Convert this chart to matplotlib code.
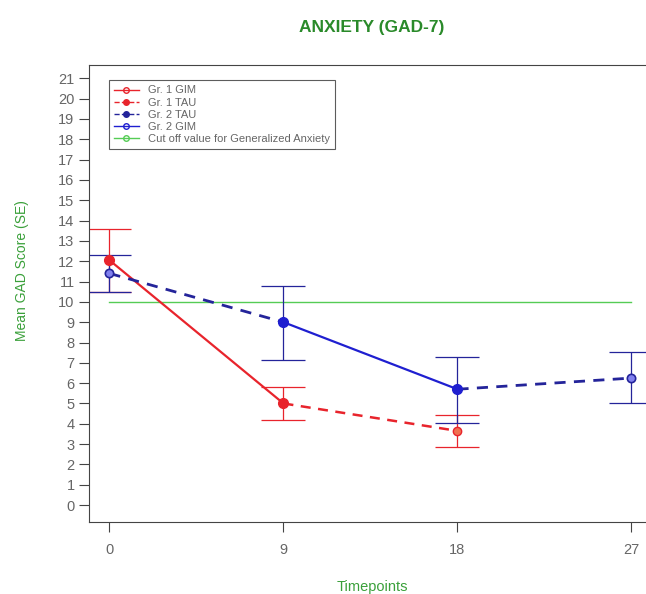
import matplotlib.pyplot as plt
from matplotlib.lines import Line2D

plt.rcParams["font.family"] = ["Liberation Sans", "DejaVu Sans"]

# data
t_g1 = [0, 9, 18]
mean_g1 = [12.05, 5.0, 3.65]
lo_g1 = [10.5, 4.2, 2.85]
hi_g1 = [13.6, 5.8, 4.45]

t_g2 = [0, 9, 18, 27]
mean_g2 = [11.4, 9.0, 5.7, 6.25]
lo_g2 = [10.5, 7.15, 4.05, 5.0]
hi_g2 = [12.3, 10.8, 7.3, 7.55]

cutoff = 10
x_ticks = [0, 9, 18, 27]
y_ticks = list(range(0, 22))

red = "#e8242c"
blue = "#1f1fd0"
navy = "#24249a"
green = "#2a8a2a"
grey = "#666666"

fig = plt.figure(figsize=(6.46, 5.94), dpi=100)
ax = fig.add_axes([0.138, 0.121, 0.862, 0.769])

# cut off line
ax.plot([0, 27], [cutoff, cutoff], color="#55cc55", lw=1)

# error bars
ax.errorbar(t_g1, mean_g1, yerr=[[m - l for m, l in zip(mean_g1, lo_g1)],
                                 [h - m for m, h in zip(mean_g1, hi_g1)]],
            fmt="none", ecolor=red, elinewidth=0.9, capsize=16, capthick=0.9)
ax.errorbar(t_g2, mean_g2, yerr=[[m - l for m, l in zip(mean_g2, lo_g2)],
                                 [h - m for m, h in zip(mean_g2, hi_g2)]],
            fmt="none", ecolor=navy, elinewidth=0.9, capsize=16, capthick=0.9)

# group 1: GIM then TAU
ax.plot(t_g1[:2], mean_g1[:2], color=red, lw=1.6, zorder=3)
ax.plot(t_g1[1:], mean_g1[1:], color=red, lw=1.8, ls=(0, (4, 3)), zorder=3)
ax.plot(t_g1[:2], mean_g1[:2], "o", color=red, ms=7, zorder=4)
ax.plot(t_g1[2:], mean_g1[2:], "o", mfc="#f07050", mec=red, ms=6, zorder=4)

# group 2: TAU, GIM, TAU
ax.plot(t_g2[:2], mean_g2[:2], color=navy, lw=2, ls=(0, (4, 3)), zorder=3)
ax.plot(t_g2[1:3], mean_g2[1:3], color=blue, lw=1.6, zorder=3)
ax.plot(t_g2[2:], mean_g2[2:], color=navy, lw=2, ls=(0, (4, 3)), zorder=3)
ax.plot(t_g2[1:3], mean_g2[1:3], "o", color=blue, ms=7, zorder=4)
ax.plot([t_g2[0], t_g2[3]], [mean_g2[0], mean_g2[3]], "o", mfc="#8080ee",
        mec=navy, ms=6, mew=1.2, zorder=4)

ax.set_xlim(-1.05, 27.75)
ax.set_ylim(-0.84, 21.64)
ax.set_xticks(x_ticks)
ax.set_yticks(y_ticks)
ax.tick_params(axis="both", direction="out", length=7, width=0.8,
               labelsize=10.5, labelcolor=grey, color="#444444")
ax.tick_params(axis="x", pad=8)
ax.spines["right"].set_visible(False)
for s in ["left", "top", "bottom"]:
    ax.spines[s].set_color("#444444")
    ax.spines[s].set_linewidth(0.8)

handles = [
    Line2D([], [], color=red, lw=1, marker="o", mfc="none", ms=4),
    Line2D([], [], color=red, lw=1, ls="--", marker="o", ms=4),
    Line2D([], [], color=navy, lw=1, ls="--", marker="o", ms=4),
    Line2D([], [], color=blue, lw=1, marker="o", mfc="none", ms=4),
    Line2D([], [], color="#55cc55", lw=1, marker="o", mfc="none", ms=4),
]
labels = ["Gr. 1 GIM", "Gr. 1 TAU", "Gr. 2 TAU", "Gr. 2 GIM",
          "Cut off value for Generalized Anxiety"]
leg = ax.legend(handles, labels, loc="upper left", bbox_to_anchor=(0.036, 0.967),
                borderaxespad=0, fontsize=8, frameon=True, fancybox=False,
                handlelength=2.2, labelspacing=0.2, borderpad=0.45,
                labelcolor=grey)
leg.get_frame().set_edgecolor("#333333")
leg.get_frame().set_linewidth(0.8)

fig.text(0.576, 0.953, "ANXIETY (GAD-7)", color=green, fontsize=12.5,
         fontweight="bold", ha="center", va="center")
fig.text(0.576, 0.012, "Timepoints", color="#3aa03a", fontsize=10.5,
         ha="center", va="center")
fig.text(0.034, 0.545, "Mean GAD Score (SE)", color="#3aa03a", fontsize=10,
         rotation=90, ha="center", va="center")

fig.savefig("out.png", dpi=100)
